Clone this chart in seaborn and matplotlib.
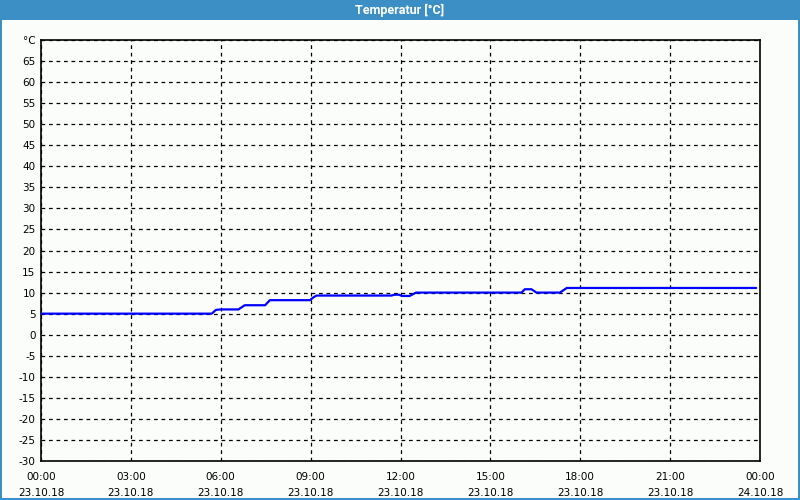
import matplotlib
matplotlib.use("Agg")
import matplotlib.pyplot as plt
from matplotlib.patches import Rectangle
from matplotlib.ticker import MultipleLocator
import seaborn as sns
import pandas as pd

# ---- data ----
title = "Temperatur [°C]"
hours = [0.0, 5.70, 5.84, 6.00, 6.59, 6.80, 7.48, 7.64, 8.98, 9.10, 9.20,
         11.70, 11.80, 11.95, 12.05, 12.30, 12.52, 16.04, 16.15, 16.37, 16.54,
         17.32, 17.55, 23.87]
temps = [5.0, 5.0, 5.9, 6.0, 6.0, 7.0, 7.0, 8.2, 8.2, 8.9, 9.3,
         9.3, 9.5, 9.5, 9.2, 9.2, 10.0, 10.0, 10.8, 10.8, 10.0,
         10.0, 11.1, 11.1]
y_ticks = list(range(-30, 70, 5))
x_ticks = [0, 3, 6, 9, 12, 15, 18, 21, 24]
x_labels = ["00:00\n23.10.18", "03:00\n23.10.18", "06:00\n23.10.18",
            "09:00\n23.10.18", "12:00\n23.10.18", "15:00\n23.10.18",
            "18:00\n23.10.18", "21:00\n23.10.18", "00:00\n24.10.18"]
unit_label = "°C"

df = pd.DataFrame({"hour": hours, "temp": temps})

sns.set_style("white")
plt.rcParams["font.family"] = ["DejaVu Sans"]
plt.rcParams["text.color"] = "black"
plt.rcParams["xtick.color"] = "black"
plt.rcParams["ytick.color"] = "black"

bg = "#fafdfa"
bar = "#3c8fc4"

fig = plt.figure(figsize=(8, 5), dpi=100, facecolor=bg)
ax = fig.add_axes([41 / 800, 1 - 461 / 500, (760 - 41) / 800, (461 - 40) / 500])
ax.set_facecolor(bg)

sns.lineplot(data=df, x="hour", y="temp", ax=ax, color="#0000ff",
             linewidth=1.6, zorder=3)

ax.set_xlim(0, 24)
ax.set_ylim(-30, 70)
ax.set_xticks(x_ticks)
ax.set_xticklabels(x_labels, fontsize=7.5, linespacing=1.75)
ax.xaxis.set_minor_locator(MultipleLocator(1))
ax.set_yticks(y_ticks + [70])
ax.set_yticklabels([str(v) for v in y_ticks] + [unit_label], fontsize=7.5)
ax.tick_params(axis="x", which="major", length=4, width=1, color="black", pad=4,
               labelcolor="black")
ax.tick_params(axis="x", which="minor", length=3, width=1, color="black")
ax.tick_params(axis="y", length=0, pad=4, labelcolor="black")
ax.set_xlabel("")
ax.set_ylabel("")

ax.grid(True, which="major", color="black", linestyle=(0, (3, 3)), linewidth=0.9)
ax.set_axisbelow(True)
for s in ax.spines.values():
    s.set_visible(True)
    s.set_color("black")
    s.set_linewidth(1.2)

# title bar and window border
fig.patches.append(Rectangle((0, 1 - 20 / 500), 1, 20 / 500, transform=fig.transFigure,
                             facecolor=bar, edgecolor="none", zorder=0))
fig.patches.append(Rectangle((0, 0), 1.5 / 800, 1, transform=fig.transFigure,
                             facecolor=bar, edgecolor="none", zorder=0))
fig.patches.append(Rectangle((1 - 2 / 800, 0), 2 / 800, 1, transform=fig.transFigure,
                             facecolor=bar, edgecolor="none", zorder=0))
fig.patches.append(Rectangle((0, 0), 1, 2 / 500, transform=fig.transFigure,
                             facecolor=bar, edgecolor="none", zorder=0))
fig.text(0.5, 1 - 10 / 500, title, color="white", fontsize=9, fontweight="bold",
         ha="center", va="center", family=["Roboto", "DejaVu Sans"])

fig.savefig("out.png", dpi=100, facecolor=bg)
